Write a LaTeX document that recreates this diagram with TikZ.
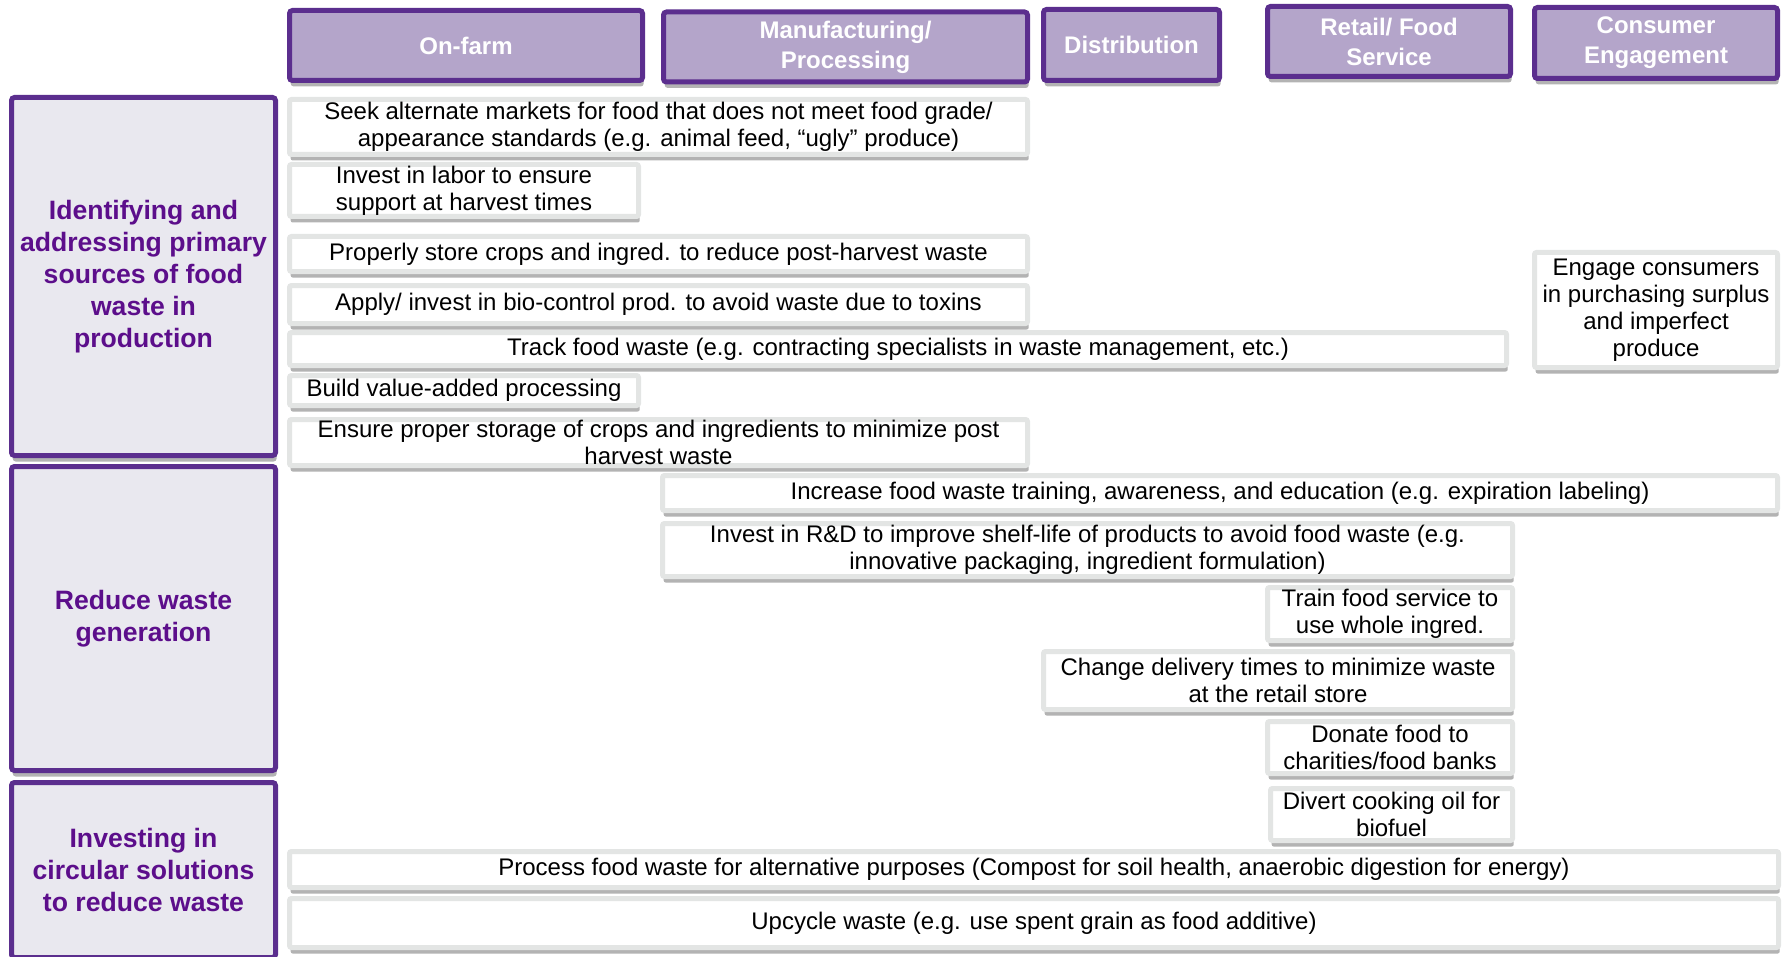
\documentclass[tikz,border=0pt]{standalone}
\usepackage{fontspec}
\setmainfont{Liberation Sans}
\usetikzlibrary{shadows}
\definecolor{hdrfill}{RGB}{180,165,202}
\definecolor{hdrline}{RGB}{91,46,142}
\definecolor{rowfill}{RGB}{233,232,239}
\definecolor{rowtext}{RGB}{92,14,139}
\definecolor{boxline}{RGB}{227,229,228}
\begin{document}
\begin{tikzpicture}[x=0.5pt,y=-0.5pt,
    hdr/.style={draw=hdrline, fill=hdrfill, line width=2.5pt, rounded corners=1.5pt,
        text=white, font=\fontsize{12}{15}\selectfont\bfseries, align=center, inner sep=0pt,
        drop shadow={shadow xshift=0.6pt, shadow yshift=-3pt, opacity=0.6, fill=black!50}},
    rowlab/.style={draw=hdrline, fill=rowfill, line width=2.5pt, rounded corners=1.5pt,
        text=rowtext, font=\fontsize{13.3}{16}\selectfont\bfseries, align=center, inner sep=0pt,
        minimum width=132pt,
        drop shadow={shadow xshift=0.6pt, shadow yshift=-3pt, opacity=0.6, fill=black!50}},
    txt/.style={draw=boxline, fill=white, line width=2.5pt, rounded corners=1pt,
        font=\fontsize{12}{13.5}\selectfont, align=center, inner sep=0pt,
        drop shadow={shadow xshift=0.6pt, shadow yshift=-3pt, opacity=0.6, fill=black!50}}]
    \useasboundingbox (0,0) rectangle (1787,957);
    % stages along the chain
    \node[hdr, minimum width=176.5pt, minimum height=35pt] (farm) at (466,45.5) {On-farm};
    \node[hdr, minimum width=182pt, minimum height=35pt] (manuf) at (845.5,47) {Manufacturing/\\Processing};
    \node[hdr, minimum width=88pt, minimum height=35.5pt] (distr) at (1131.5,45) {Distribution};
    \node[hdr, minimum width=121.5pt, minimum height=35pt] (retail) at (1389,41.5) {Retail/ Food\\Service};
    \node[hdr, minimum width=121.5pt, minimum height=35.5pt] (cons) at (1656,43) {Consumer\\Engagement};
    % row labels
    \node[rowlab, minimum height=179pt] (ident) at (143.5,276.5)
        {Identifying and\\addressing primary\\sources of food\\waste in\\production};
    \node[rowlab, minimum height=152pt] (reduce) at (143.5,618.5) {Reduce waste\\generation};
    \node[rowlab, minimum height=87.5pt] (circ) at (143.5,870)
        {Investing in\\circular solutions\\to reduce waste};
    % primary sources
    \node[txt, minimum width=369pt, minimum height=27.5pt] (seek) at (658.5,127)
        {Seek alternate markets for food that does not meet food grade/\\appearance standards (e.g. animal feed, “ugly” produce)};
    \node[txt, minimum width=174.5pt, minimum height=26pt] (labor) at (464,190.5)
        {Invest in labor to ensure\\support at harvest times};
    \node[txt, minimum width=369pt, minimum height=17.5pt] (store) at (658.5,254)
        {Properly store crops and ingred. to reduce post-harvest waste};
    \node[txt, minimum width=369pt, minimum height=19pt] (apply) at (658.5,304.5)
        {Apply/ invest in bio-control prod. to avoid waste due to toxins};
    \node[txt, minimum width=608.5pt, minimum height=16.5pt] (track) at (898,349)
        {Track food waste (e.g. contracting specialists in waste management, etc.)};
    \node[txt, minimum width=174.5pt, minimum height=15pt] (build) at (464,390.5)
        {Build value-added processing};
    \node[txt, minimum width=369pt, minimum height=23pt] (ensure) at (658.5,442.5)
        {Ensure proper storage of crops and ingredients to minimize post\\harvest waste};
    \node[txt, minimum width=121.5pt, minimum height=57.5pt] (engage) at (1656,310)
        {Engage consumers\\in purchasing surplus\\and imperfect\\produce};
    % waste generation
    \node[txt, minimum width=557.5pt, minimum height=17.5pt] (aware) at (1220,493)
        {Increase food waste training, awareness, and education (e.g. expiration labeling)};
    \node[txt, minimum width=425pt, minimum height=26.5pt] (rnd) at (1087.5,550)
        {Invest in R\&D to improve shelf-life of products to avoid food waste (e.g.\\innovative packaging, ingredient formulation)};
    \node[txt, minimum width=122.5pt, minimum height=26.5pt] (train) at (1390,614)
        {Train food service to\\use whole ingred.};
    \node[txt, minimum width=234.5pt, minimum height=29pt] (deliv) at (1278,680.5)
        {Change delivery times to minimize waste\\at the retail store};
    \node[txt, minimum width=122.5pt, minimum height=26pt] (donate) at (1390,747.5)
        {Donate food to\\charities/food banks};
    \node[txt, minimum width=121pt, minimum height=26pt] (oil) at (1391.5,814.5)
        {Divert cooking oil for\\biofuel};
    % circular solutions
    \node[txt, minimum width=744.5pt, minimum height=18pt] (compost) at (1034,869.5)
        {Process food waste for alternative purposes (Compost for soil health, anaerobic digestion for energy)};
    \node[txt, minimum width=744.5pt, minimum height=24.5pt] (upcycle) at (1034,923)
        {Upcycle waste (e.g. use spent grain as food additive)};
\end{tikzpicture}
\end{document}
